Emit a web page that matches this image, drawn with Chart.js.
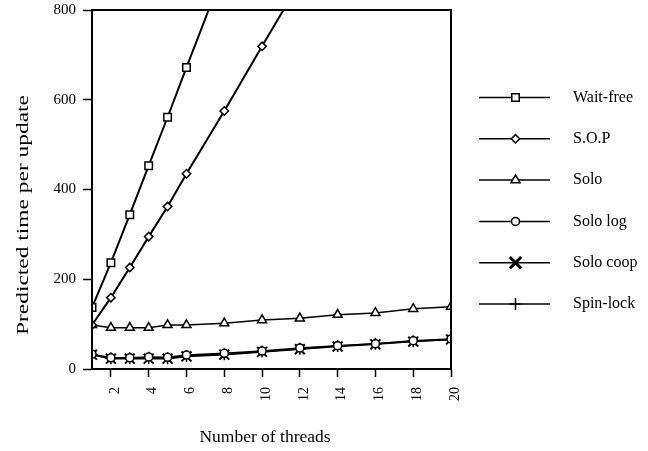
<!DOCTYPE html>
<html>
<head>
<meta charset="utf-8">
<script src="https://cdn.jsdelivr.net/npm/chart.js@4.4.1/dist/chart.umd.min.js"></script>
<style>
  html, body { margin: 0; padding: 0; background: #fff; }
  #c { display: block; }
</style>
</head>
<body>
<canvas id="c" width="648" height="451"></canvas>
<script>
// ---- data ----
const threads = [1, 2, 3, 4, 5, 6, 8, 10, 12, 14, 16, 18, 20];
const xTickLabels = [2, 4, 6, 8, 10, 12, 14, 16, 18, 20];
const yTickLabels = [0, 200, 400, 600, 800];
const seriesNames = ['Wait-free', 'S.O.P', 'Solo', 'Solo log', 'Solo coop', 'Spin-lock'];
const waitFree = [137, 237, 344, 453, 561, 672, 890];
const sop      = [98, 159, 226, 295, 362, 435, 575, 719, 862];
const solo     = [98, 92, 92, 92, 98, 98, 102, 109, 113, 121, 125, 134, 139];
const soloLog  = [33, 25, 25, 27, 26, 31, 35, 40, 47, 52, 56, 63, 67];
const soloCoop = [32, 23, 23, 23, 23, 28, 32, 38, 44, 50, 55, 61, 66];
const spinLock = [32, 24, 24, 25, 24, 29, 33, 39, 45, 51, 56, 62, 66];
const xTitle = 'Number of threads';
const yTitle = 'Predicted time per update';

const SERIF = '"Liberation Serif", "DejaVu Serif", serif';

function pts(vals) { return vals.map((v, i) => ({ x: threads[i], y: v })); }

const styles = [
  { pointStyle: 'rect',     radius: 5.3, lw: 2,   pbw: 1.5 },
  { pointStyle: 'rectRot',  radius: 4.2, lw: 2,   pbw: 1.5 },
  { pointStyle: 'triangle', radius: 5.2, lw: 1.5, pbw: 1.5 },
  { pointStyle: 'circle',   radius: 4,   lw: 1.5, pbw: 1.5 },
  { pointStyle: 'crossRot', radius: 7,   lw: 1.5, pbw: 2 },
  { pointStyle: 'cross',    radius: 6,   lw: 1.5, pbw: 1.5 }
];
const allSeries = [waitFree, sop, solo, soloLog, soloCoop, spinLock];

const datasets = allSeries.map((vals, i) => ({
  label: seriesNames[i],
  data: pts(vals),
  borderColor: '#000',
  backgroundColor: '#fff',
  borderWidth: styles[i].lw,
  pointStyle: styles[i].pointStyle,
  pointRadius: styles[i].radius,
  pointBorderWidth: styles[i].pbw,
  pointBorderColor: '#000',
  pointBackgroundColor: '#fff',
  tension: 0,
  fill: false
}));

const decor = {
  id: 'decor',
  afterDraw(chart) {
    const ctx = chart.ctx;
    const a = chart.chartArea;
    ctx.save();
    // frame
    ctx.strokeStyle = '#000';
    ctx.lineWidth = 2;
    ctx.strokeRect(a.left, a.top, a.right - a.left, a.bottom - a.top);

    ctx.fillStyle = '#000';
    // y title
    ctx.save();
    ctx.font = '17px ' + SERIF;
    const wy = ctx.measureText(yTitle).width;
    ctx.translate(24, 215);
    ctx.rotate(-Math.PI / 2);
    ctx.scale(240 / wy, 1);
    ctx.textAlign = 'center';
    ctx.textBaseline = 'middle';
    ctx.fillText(yTitle, 0, 0);
    ctx.restore();

    // x title
    ctx.save();
    ctx.font = '17.5px ' + SERIF;
    ctx.textAlign = 'center';
    ctx.textBaseline = 'middle';
    ctx.fillText(xTitle, 265, 437);
    ctx.restore();

    // legend
    chart.data.datasets.forEach((ds, i) => {
      const y = 97.5 + i * 41.3;
      ctx.save();
      ctx.strokeStyle = '#000';
      ctx.lineWidth = 1.5;
      ctx.beginPath();
      ctx.moveTo(479, y);
      ctx.lineTo(550, y);
      ctx.stroke();
      ctx.fillStyle = '#fff';
      ctx.lineWidth = ds.pointStyle === 'crossRot' ? 3 : ds.pointBorderWidth;
      const r = ds.pointStyle === 'crossRot' ? 8 : ds.pointRadius;
      Chart.helpers.drawPoint(ctx, { pointStyle: ds.pointStyle, radius: r, rotation: 0, borderWidth: ctx.lineWidth }, 515.5, y);
      ctx.fillStyle = '#000';
      ctx.font = '16px ' + SERIF;
      ctx.textAlign = 'left';
      ctx.textBaseline = 'middle';
      ctx.fillText(ds.label, 573, y);
      ctx.restore();
    });
    ctx.restore();
  }
};

new Chart(document.getElementById('c'), {
  type: 'line',
  data: { datasets },
  options: {
    responsive: false,
    animation: false,
    events: [],
    layout: { padding: { top: 10, right: 197, left: 0, bottom: 0 } },
    plugins: { legend: { display: false }, tooltip: { enabled: false } },
    scales: {
      x: {
        type: 'linear',
        min: 1, max: 20,
        afterBuildTicks(scale) { scale.ticks = xTickLabels.map(v => ({ value: v })); },
        afterFit(scale) { scale.height = 82; scale.paddingLeft = 0; scale.paddingRight = 0; },
        grid: { display: true, drawOnChartArea: false, drawTicks: true, tickLength: 8, tickWidth: 1.5, tickColor: '#000' },
        border: { display: true, color: '#000', width: 2 },
        ticks: {
          minRotation: 90, maxRotation: 90, padding: 10, labelOffset: 4,
          color: '#000', font: { family: SERIF, size: 14 },
          callback: (v) => String(v)
        }
      },
      y: {
        type: 'linear',
        min: 0, max: 800,
        afterBuildTicks(scale) { scale.ticks = yTickLabels.map(v => ({ value: v })); },
        afterFit(scale) { scale.width = 92; scale.paddingTop = 0; scale.paddingBottom = 0; },
        grid: { display: true, drawOnChartArea: false, drawTicks: true, tickLength: 9, tickWidth: 1.5, tickColor: '#000' },
        border: { display: true, color: '#000', width: 2 },
        ticks: {
          padding: 7,
          color: '#000', font: { family: SERIF, size: 15 },
          callback: (v) => String(v)
        }
      }
    }
  },
  plugins: [decor]
});
</script>
</body>
</html>
